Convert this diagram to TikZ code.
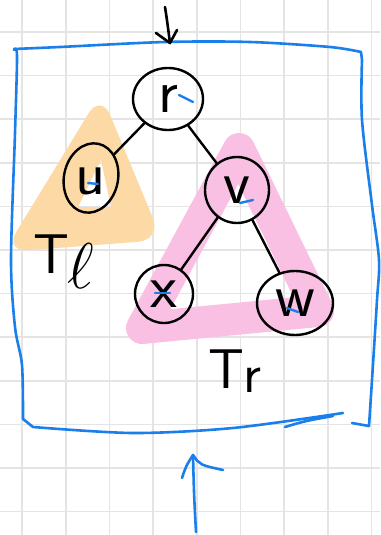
\documentclass[tikz,border=0pt]{standalone}
\usetikzlibrary{shapes.geometric}
\usepackage{graphicx}
\definecolor{gridc}{HTML}{E4E4E4}
\definecolor{penblue}{HTML}{1A7FEA}
\definecolor{orangehl}{HTML}{FDD9A6}
\definecolor{pinkhl}{HTML}{F9C0E4}
\begin{document}
\begin{tikzpicture}[x=1pt,y=-1pt,
  tnode/.style={ellipse, draw=black, line width=2.4pt, inner sep=0pt,
    font=\sffamily\fontsize{62}{62}\selectfont},
  tedge/.style={line width=2.4pt, line cap=round},
  bluepen/.style={draw=penblue, line width=2.6pt, line cap=round, line join=round},
  bluetick/.style={draw=penblue, line width=2.4pt, line cap=round},
  blackpen/.style={draw=black, line width=2.6pt, line cap=round, line join=round},
  gridline/.style={draw=gridc, line width=1.6pt},
  lbl/.style={font=\sffamily\fontsize{56}{56}\selectfont, inner sep=0pt}]
\useasboundingbox (0,0) rectangle (380,535);
\fill[white] (0,0) rectangle (380,535);
% grid
\foreach \gx in {22,65.7,109.4,153.1,196.8,240.5,284.2,327.9,371.6}
  \draw[gridline] (\gx,0) -- (\gx,535);
\foreach \gy in {32,75.6,119.2,162.8,206.4,250,293.6,337.2,380.8,424.4,468,511.6}
  \draw[gridline] (0,\gy) -- (380,\gy);
% orange highlight
\fill[orangehl, even odd rule, rounded corners=24pt]
  (101,93) -- (162,240) -- (4,252) -- cycle
  [sharp corners] (101,160) -- (111,207) -- (78,207) -- cycle;
% pink highlight
\draw[pinkhl, line width=32pt, line join=round, line cap=round]
  (239,149) -- (318,311) -- (142,328) -- cycle;
% blue box
\draw[bluepen] plot[smooth, tension=0.5] coordinates {
  (14,49) (60,47) (165,42) (250,42) (330,47) (361,52)}
  -- plot[smooth, tension=0.5] coordinates {
  (362,60) (362,120) (372,205) (379,260) (377,300) (372,380) (369,426)}
  -- (352,423);
\draw[bluepen] plot[smooth, tension=0.5] coordinates {
  (14,50) (17,56) (15,133) (11,260) (15,327) (22,365) (23,419)}
  -- plot[smooth, tension=0.5] coordinates {
  (33,427) (133,433) (233,428) (343,413)};
\draw[bluepen] (285,427) .. controls (305,421) .. (333,416);
% top black arrow
\coordinate (topstart) at (165,7);
\coordinate (toptip) at (170,43);
\draw[blackpen] (topstart) .. controls (167,20) .. (toptip);
\draw[blackpen] (156,33) -- (toptip) -- (177,30);
% bottom blue arrow
\coordinate (botstart) at (196,532);
\coordinate (bottip) at (193,455);
\draw[bluepen] (botstart) .. controls (194,495) .. (bottip);
\draw[bluepen] (182,478) .. controls (186,466) .. (bottip) .. controls (200,465) .. (223,470);
% nodes
\node[tnode, minimum width=70pt, minimum height=62pt] (r) at (168,99) {r};
\node[tnode, minimum width=54pt, minimum height=70pt, rotate=-12] (u) at (91,178) {};
\node[font=\sffamily\fontsize{62}{62}\selectfont, inner sep=0pt] (ut) at (91,181) {u};
\node[tnode, minimum width=64pt, minimum height=66pt] (v) at (237,190) {v};
\node[tnode, minimum width=58pt, minimum height=58pt] (x) at (164,294) {x};
\node[tnode, minimum width=76pt, minimum height=64pt] (w) at (295,303) {w};
% edges
\draw[tedge] (r) -- (u);
\draw[tedge] (r) -- (v);
\draw[tedge] (v) -- (x);
\draw[tedge] (v) -- (w);
% blue ticks
\draw[bluetick] (179,95) -- (193,102);
\draw[bluetick] (88,183) -- (98,184);
\draw[bluetick] (240,203) -- (253,200);
\draw[bluetick] (155,293) -- (170,293);
\draw[bluetick] (287,308) -- (298,312);
% labels
\node[lbl, anchor=base west] (tl) at (33,273) {T\kern-2pt\raisebox{-15pt}{\scalebox{2.6}{$\ell$}}};
\node[lbl, anchor=base west] (tr) at (208,388) {T\kern-1pt\raisebox{-4pt}{r}};
\end{tikzpicture}
\end{document}
